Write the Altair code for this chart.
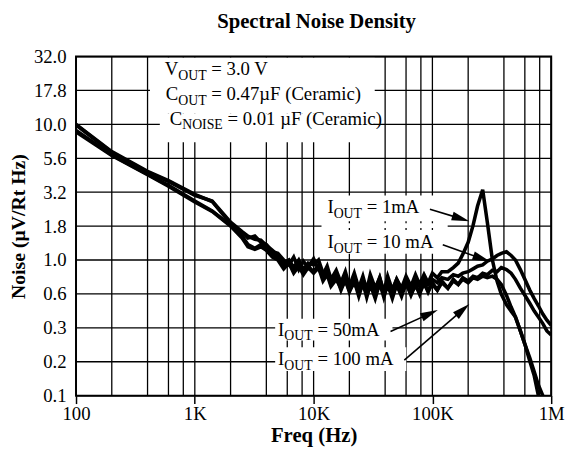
import json
import math
import altair as alt
import pandas as pd

# ---------------- data ----------------
freq = [100, 200, 400, 600, 1000, 1400, 2000, 2500, 2800, 3200,
        3600, 4000, 4500, 5000, 5600, 6200, 6800, 7500, 8200, 9000,
        10000, 11000, 12000, 13000, 14000, 15500, 17000, 18500, 20000, 22000,
        24000, 26000, 28000, 30000, 33000, 36000, 39000, 42000, 46000, 50000,
        55000, 60000, 66000, 72000, 78000, 85000, 92000, 100000, 110000, 120000,
        135000, 150000, 165000, 180000, 200000, 220000, 240000, 265000, 290000, 320000,
        350000, 380000, 420000, 460000, 500000, 550000, 600000, 660000, 720000, 780000,
        850000, 920000, 1000000]

iout_1mA = [10.0, 6.3, 4.5, 3.85, 3.05, 2.7, 1.85, 1.6, 1.45, 1.5,
            1.35, 1.3, 1.15, 1.12, 1.0, 0.92, 1.05, 0.85, 0.98, 0.88,
            1.02, 0.85, 0.78, 0.9, 0.72, 0.84, 0.68, 0.82, 0.64, 0.8,
            0.62, 0.76, 0.6, 0.78, 0.62, 0.74, 0.58, 0.76, 0.6, 0.72,
            0.62, 0.76, 0.64, 0.78, 0.66, 0.78, 0.68, 0.8, 0.74, 0.82,
            0.82, 0.88, 0.95, 1.1, 1.35, 1.8, 2.5, 3.3, 1.9, 1.0,
            0.7, 0.56, 0.47, 0.42, 0.38, 0.3, 0.24, 0.18, 0.14, 0.1,
            None, None, None]

iout_10mA = [9.9, 6.2, 4.45, 3.8, 3.0, 2.72, 1.9, 1.62, 1.5, 1.42,
             1.4, 1.28, 1.18, 1.08, 0.95, 1.0, 0.88, 1.0, 0.85, 0.95,
             0.92, 1.0, 0.8, 0.86, 0.7, 0.78, 0.66, 0.75, 0.62, 0.74,
             0.6, 0.72, 0.58, 0.7, 0.6, 0.74, 0.58, 0.7, 0.6, 0.72,
             0.6, 0.7, 0.62, 0.7, 0.64, 0.72, 0.66, 0.72, 0.68, 0.74,
             0.72, 0.78, 0.76, 0.8, 0.82, 0.86, 0.9, 0.92, 0.98, 1.02,
             1.08, 1.12, 1.15, 1.08, 1.0, 0.85, 0.72, 0.6, 0.52, 0.46,
             0.4, 0.36, 0.33]

iout_50mA = [9.0, 5.95, 4.3, 3.55, 2.72, 2.3, 1.8, 1.5, 1.3, 1.22,
             1.3, 1.22, 1.1, 1.05, 0.9, 0.98, 0.82, 0.95, 0.8, 0.9,
             0.82, 0.92, 0.74, 0.82, 0.66, 0.76, 0.6, 0.72, 0.58, 0.7,
             0.54, 0.68, 0.53, 0.66, 0.52, 0.68, 0.53, 0.66, 0.52, 0.66,
             0.54, 0.68, 0.55, 0.66, 0.56, 0.68, 0.58, 0.68, 0.6, 0.7,
             0.62, 0.72, 0.66, 0.74, 0.7, 0.76, 0.74, 0.8, 0.78, 0.84,
             0.82, 0.88, 0.85, 0.8, 0.72, 0.62, 0.55, 0.48, 0.42, 0.38,
             0.34, 0.3, 0.28]

iout_100mA = [8.8, 5.9, 4.25, 3.5, 2.68, 2.28, 1.78, 1.45, 1.25, 1.2,
              1.25, 1.18, 1.05, 1.0, 0.86, 0.95, 0.8, 0.9, 0.78, 0.88,
              0.8, 0.88, 0.7, 0.78, 0.64, 0.72, 0.62, 0.7, 0.6, 0.68,
              0.58, 0.66, 0.57, 0.64, 0.56, 0.66, 0.57, 0.64, 0.56, 0.64,
              0.57, 0.66, 0.58, 0.64, 0.59, 0.66, 0.6, 0.66, 0.6, 0.68,
              0.62, 0.7, 0.66, 0.72, 0.68, 0.74, 0.72, 0.76, 0.74, 0.76,
              0.72, 0.66, 0.55, 0.45, 0.38, 0.3, 0.24, 0.19, 0.15, 0.12,
              0.1, None, None]

x_grid = [100, 200, 400, 600, 800, 1000, 2000, 4000, 6000, 8000,
          10000, 20000, 40000, 60000, 80000, 100000, 200000, 400000, 600000, 800000, 1000000]
x_label_values = [100, 1000, 10000, 100000, 1000000]
x_labels = ["100", "1K", "10K", "100K", "1M"]
y_ticks = [0.1, 0.1778, 0.3162, 0.5623, 1.0, 1.778, 3.162, 5.623, 10.0, 17.78, 31.62]
y_labels = ["0.1", "0.2", "0.3", "0.6", "1.0", "1.8", "3.2", "5.6", "10.0", "17.8", "32.0"]

# ---------------- layout ----------------
W, H = 482, 344
X0, Y0 = 77, 54          # page position of plot origin
XMIN, XMAX = 100, 1e6
YMIN, YMAX = 0.1, 31.62
FONT = "Liberation Serif"


def px_to_f(px):
    lo, hi = math.log10(XMIN), math.log10(XMAX)
    return 10 ** (lo + (px - X0) / W * (hi - lo))


def py_to_v(py):
    lo, hi = math.log10(YMIN), math.log10(YMAX)
    return 10 ** (hi - (py - Y0) / H * (hi - lo))


xs = alt.Scale(type="log", domain=[XMIN, XMAX], nice=False)
ys = alt.Scale(type="log", domain=[YMIN, YMAX], nice=False)

xaxis = alt.Axis(
    values=x_label_values,
    labelExpr=f"{json.dumps(x_labels)}[indexof({json.dumps(x_label_values)}, datum.value)]",
    grid=False, domain=False, ticks=True, tickSize=8, tickWidth=1.5, tickColor="black",
    labelFont=FONT, labelFontSize=19, labelColor="black", labelPadding=1,
    labelFlush=False, labelOverlap=False,
    title="Freq (Hz)", titleFont=FONT, titleFontSize=21, titleFontWeight="bold",
    titleColor="black", titlePadding=2,
)
yaxis = alt.Axis(
    values=y_ticks,
    labelExpr=f"{json.dumps(y_labels)}[indexof({json.dumps(y_ticks)}, datum.value)]",
    grid=False, domain=False, ticks=False,
    labelFont=FONT, labelFontSize=19, labelColor="black", labelPadding=10,
    labelOverlap=False, labelFlush=False,
    title="Noise (µV/Rt Hz)", titleFont=FONT, titleFontSize=20, titleFontWeight="bold",
    titleColor="black", titlePadding=5,
)


def X(field):
    return alt.X(f"{field}:Q", scale=xs, axis=xaxis)


def Y(field):
    return alt.Y(f"{field}:Q", scale=ys, axis=yaxis)


one_row = alt.Data(values=[{"a": 1}])

# title as text above the plot
title = alt.Chart(one_row).mark_text(
    text="Spectral Noise Density", font=FONT, fontSize=21, fontWeight="bold",
    align="center", baseline="alphabetic", color="black"
).encode(x=alt.value(W / 2 + 3), y=alt.value(25 - Y0))

# grid
vgrid = alt.Chart(pd.DataFrame({"f": x_grid})).mark_rule(color="black", strokeWidth=1.3).encode(
    x=X("f"), y=alt.value(0), y2=alt.value(H))
hgrid = alt.Chart(pd.DataFrame({"v": y_ticks})).mark_rule(color="black", strokeWidth=1.3).encode(
    y=Y("v"), x=alt.value(0), x2=alt.value(W))

# white backgrounds behind annotations (page pixel rects)
box_px = [
    (152, 55, 380, 112),
    (162, 112, 378, 141),
    (326, 195, 454, 221),
    (326, 223, 454, 228),
    (326, 230, 452, 254),
    (279, 320, 398, 342),
    (279, 349, 412, 373),
]
boxes_df = pd.DataFrame([
    {"f0": px_to_f(a), "f1": px_to_f(c), "v0": py_to_v(b), "v1": py_to_v(d)} for a, b, c, d in box_px
])
boxes = alt.Chart(boxes_df).mark_rect(color="white").encode(
    x=X("f0"), x2="f1", y=Y("v0"), y2="v1")

# curves
series = {"1mA": iout_1mA, "10mA": iout_10mA, "50mA": iout_50mA, "100mA": iout_100mA}
rows = []
for name, vals in series.items():
    for f, v in zip(freq, vals):
        if v is not None:
            rows.append({"f": f, "v": v, "series": name})
curves_df = pd.DataFrame(rows)
curves = alt.Chart(curves_df).mark_line(color="black", strokeWidth=3.6, clip=True).encode(
    x=X("f"), y=Y("v"), detail="series:N")

# arrows (page pixels: start x, start y, tip x, tip y)
arrows_px = [
    (436, 209, 476, 221),
    (449, 245, 497, 262),
    (396, 333, 444, 311),
    (410, 362, 476, 305),
]
R = 9
line_rows, head_rows = [], []
for i, (sx, sy, tx, ty) in enumerate(arrows_px):
    dx, dy = tx - sx, ty - sy
    L = math.hypot(dx, dy)
    ux, uy = dx / L, dy / L
    cx, cy = tx - ux * R, ty - uy * R
    ang = math.degrees(math.atan2(dx, -dy)) % 360
    line_rows.append({"f": px_to_f(sx), "v": py_to_v(sy), "a": i, "o": 0})
    line_rows.append({"f": px_to_f(cx), "v": py_to_v(cy), "a": i, "o": 1})
    head_rows.append({"f": px_to_f(cx), "v": py_to_v(cy), "ang": ang})
arrow_lines = alt.Chart(pd.DataFrame(line_rows)).mark_line(color="black", strokeWidth=1.6).encode(
    x=X("f"), y=Y("v"), detail="a:N", order="o:Q")
arrow_heads = alt.Chart(pd.DataFrame(head_rows)).mark_point(
    shape="M0,-1L0.5,1L-0.5,1Z", filled=True, color="black", opacity=1, size=(2 * R) ** 2
).encode(x=X("f"), y=Y("v"), angle=alt.Angle("ang:Q", scale=None))

# annotation text (page pixels: x, baseline y, main, subscript, rest)
labels_px = [
    (167, 73, "V", "OUT", "= 3.0 V"),
    (168, 98, "C", "OUT", "= 0.47µF (Ceramic)"),
    (172, 123, "C", "NOISE", "= 0.01 µF (Ceramic)"),
    (332, 213, "I", "OUT", "= 1mA"),
    (332, 248, "I", "OUT", "= 10 mA"),
    (282, 337, "I", "OUT", "= 50mA"),
    (282, 367, "I", "OUT", "= 100 mA"),
]
MAIN, SUB = 19, 14
cw = {"V": 0.722, "C": 0.667, "I": 0.333, "O": 0.722, "U": 0.722, "T": 0.611,
      "N": 0.722, "S": 0.556, "E": 0.611}
main_rows, sub_rows, rest_rows = [], [], []
for x, y, m, s, r in labels_px:
    xm = x
    xsb = xm + cw[m] * MAIN
    xr = xsb + sum(cw[ch] for ch in s) * SUB + 0.25 * MAIN
    main_rows.append({"f": px_to_f(xm), "v": py_to_v(y), "t": m})
    sub_rows.append({"f": px_to_f(xsb), "v": py_to_v(y), "t": s})
    rest_rows.append({"f": px_to_f(xr), "v": py_to_v(y), "t": r})


def text_layer(rows, size, dy=0):
    return alt.Chart(pd.DataFrame(rows)).mark_text(
        font=FONT, fontSize=size, align="left", baseline="alphabetic", color="black", dy=dy
    ).encode(x=X("f"), y=Y("v"), text="t:N")


t_main = text_layer(main_rows, MAIN)
t_sub = text_layer(sub_rows, SUB, dy=5)
t_rest = text_layer(rest_rows, MAIN)

frame = alt.Chart(one_row).mark_rect(
    fillOpacity=0, stroke="black", strokeWidth=2).encode(
    x=alt.value(0), x2=alt.value(W), y=alt.value(0), y2=alt.value(H))

chart = alt.layer(
    vgrid, hgrid, boxes, curves, arrow_lines, arrow_heads, t_main, t_sub, t_rest, frame, title
).properties(
    width=W, height=H,
    padding={"left": 69, "top": 46, "right": 14, "bottom": 60},
    autosize=alt.AutoSizeParams(type="none"),
).configure_view(stroke=None).configure(background="white")

chart.save("out.html", embed_options={"renderer": "svg", "actions": False})
